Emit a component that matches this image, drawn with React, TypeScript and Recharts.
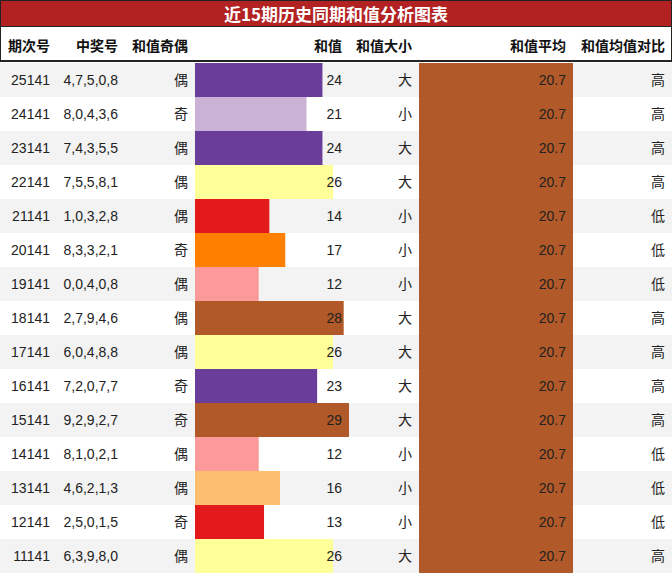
import React from 'react';
import { BarChart, Bar, XAxis, YAxis, Cell, LabelList } from 'recharts';

const periods = ['25141', '24141', '23141', '22141', '21141', '20141', '19141', '18141', '17141', '16141', '15141', '14141', '13141', '12141', '11141'];
const draws = ['4,7,5,0,8', '8,0,4,3,6', '7,4,3,5,5', '7,5,5,8,1', '1,0,3,2,8', '8,3,3,2,1', '0,0,4,0,8', '2,7,9,4,6', '6,0,4,8,8', '7,2,0,7,7', '9,2,9,2,7', '8,1,0,2,1', '4,6,2,1,3', '2,5,0,1,5', '6,3,9,8,0'];
const parity = ['偶', '奇', '偶', '偶', '偶', '奇', '偶', '偶', '偶', '奇', '奇', '偶', '偶', '奇', '偶'];
const sums = [24, 21, 24, 26, 14, 17, 12, 28, 26, 23, 29, 12, 16, 13, 26];
const sizes = ['大', '小', '大', '大', '小', '小', '小', '大', '大', '大', '大', '小', '小', '小', '大'];
const avgs = [20.7, 20.7, 20.7, 20.7, 20.7, 20.7, 20.7, 20.7, 20.7, 20.7, 20.7, 20.7, 20.7, 20.7, 20.7];
const compare = ['高', '高', '高', '高', '低', '低', '低', '高', '高', '高', '高', '低', '低', '低', '高'];

const headers = ['期次号', '中奖号', '和值奇偶', '和值', '和值大小', '和值平均', '和值均值对比'];
const title = '近15期历史同期和值分析图表';

const sumColors: Record<number, string> = {
  12: '#fb9a99', 13: '#e31a1c', 14: '#e31a1c', 16: '#fdbf6f', 17: '#ff7f00',
  21: '#cab2d6', 23: '#6a3d9a', 24: '#6a3d9a', 26: '#ffff99', 28: '#b15928', 29: '#b15928',
};
const AVG_COLOR = '#b15928';

// layout
const W = 672;
const colRight = [57, 125, 195, 349, 419, 573, 672];
const PAD = 7;
const HEADER_H = 63;
const ROW_H = 34;
const FONT = '"Liberation Sans", Arial, "Noto Sans CJK SC", sans-serif';
const TEXT = '#222';

const rows = periods.map((p, i) => ({
  period: p,
  draw: draws[i],
  parity: parity[i],
  sum: sums[i],
  size: sizes[i],
  avg: avgs[i],
  compare: compare[i],
}));

const sumMax = Math.max(...sums);
const avgMax = Math.max(...avgs);

const makeLabel = (right: number) => (props: any) => {
  const vb = props.viewBox ?? props;
  const y = vb.y + vb.height / 2;
  return (
    <text
      x={right - PAD}
      y={y}
      textAnchor="end"
      dominantBaseline="central"
      fontSize={14}
      fontFamily={FONT}
      fill={TEXT}
    >
      {props.value}
    </text>
  );
};

const RowBg = (props: any) => (
  <rect
    x={props.x}
    y={props.y}
    width={props.width}
    height={props.height}
    fill={props.index % 2 === 0 ? '#f3f3f3' : '#ffffff'}
  />
);

export default function App() {
  const chartH = ROW_H * rows.length;
  return (
    <div style={{ position: 'absolute', left: 0, top: 0, width: W, height: 574, background: '#fff', fontFamily: FONT }}>
      <div
        style={{
          position: 'absolute', left: 0, top: 0, width: W, height: HEADER_H - 1,
          boxSizing: 'border-box', borderLeft: '1px solid #222', borderRight: '1px solid #222',
          borderTop: '1px solid #222', borderBottom: '2px solid #222',
        }}
      >
        <div
          style={{
            height: 25, background: '#b22222', borderBottom: '1px solid #222', color: '#fff',
            fontWeight: 'bold', fontSize: 17, lineHeight: '25px', textAlign: 'center',
            fontFamily: '"Noto Sans CJK SC", sans-serif',
          }}
        >
          {title}
        </div>
        {headers.map((h, i) => (
          <div
            key={h}
            style={{
              position: 'absolute', top: 27, right: W - colRight[i] + PAD - 1, height: 34,
              lineHeight: '34px', fontSize: 14, fontWeight: 'bold', color: '#111', whiteSpace: 'nowrap',
              fontFamily: '"Noto Sans CJK SC", sans-serif',
            }}
          >
            {h}
          </div>
        ))}
      </div>
      <div style={{ position: 'absolute', left: 0, top: HEADER_H }}>
        <BarChart
          width={W}
          height={chartH}
          data={rows}
          layout="vertical"
          margin={{ top: 0, right: 0, bottom: 0, left: 0 }}
          barCategoryGap={0}
          barGap={0}
        >
          <YAxis yAxisId="a" type="category" dataKey="period" hide />
          <YAxis yAxisId="b" type="category" dataKey="period" hide />
          <XAxis xAxisId="sum" type="number" domain={[0, sumMax]} padding={{ left: colRight[2], right: W - colRight[3] }} hide />
          <XAxis xAxisId="avg" type="number" domain={[0, avgMax]} padding={{ left: colRight[4], right: W - colRight[5] }} hide />
          <Bar xAxisId="sum" yAxisId="a" dataKey="sum" isAnimationActive={false} background={RowBg}>
            {rows.map((r) => (
              <Cell key={r.period} fill={sumColors[r.sum]} />
            ))}
          </Bar>
          <Bar xAxisId="avg" yAxisId="b" dataKey="avg" fill={AVG_COLOR} isAnimationActive={false}>
            <LabelList dataKey="period" content={makeLabel(colRight[0])} />
            <LabelList dataKey="draw" content={makeLabel(colRight[1])} />
            <LabelList dataKey="parity" content={makeLabel(colRight[2])} />
            <LabelList dataKey="sum" content={makeLabel(colRight[3])} />
            <LabelList dataKey="size" content={makeLabel(colRight[4])} />
            <LabelList dataKey="avg" content={makeLabel(colRight[5])} />
            <LabelList dataKey="compare" content={makeLabel(colRight[6])} />
          </Bar>
        </BarChart>
      </div>
    </div>
  );
}
